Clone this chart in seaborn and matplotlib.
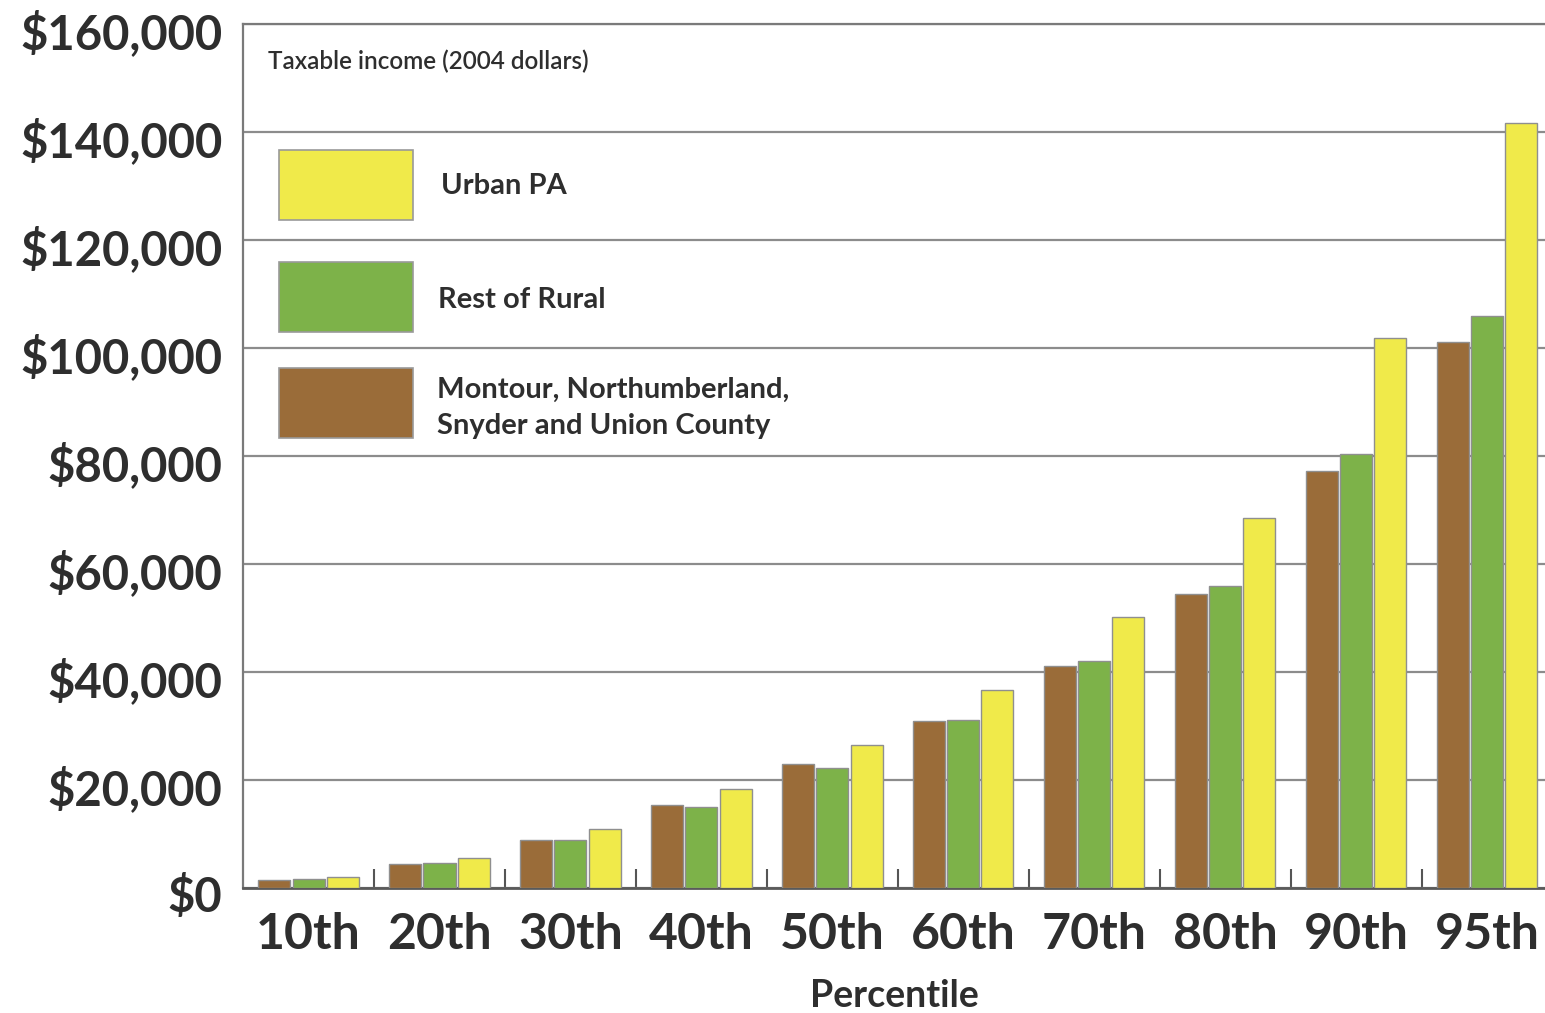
import numpy as np
import pandas as pd
import matplotlib
matplotlib.use("Agg")
import matplotlib.pyplot as plt
import matplotlib.transforms as mtransforms
from matplotlib.patches import Rectangle
from matplotlib.ticker import FuncFormatter, FixedLocator
import seaborn as sns

# ---- data ----
percentiles = ["10th", "20th", "30th", "40th", "50th", "60th", "70th", "80th", "90th", "95th"]
montour = [1500, 4500, 8800, 15400, 23000, 30900, 41100, 54500, 77200, 101100]
rest_rural = [1600, 4600, 8800, 15000, 22300, 31100, 42000, 55900, 80400, 105900]
urban_pa = [2000, 5600, 11000, 18300, 26500, 36700, 50200, 68500, 101900, 141700]
series_names = ["Montour, Northumberland,\nSnyder and Union County", "Rest of Rural", "Urban PA"]
colors = ["#9a6c39", "#7db249", "#f0ea4a"]
y_ticks = [0, 20000, 40000, 60000, 80000, 100000, 120000, 140000, 160000]

df = pd.DataFrame({
    "Percentile": percentiles * 3,
    "Income": montour + rest_rural + urban_pa,
    "Region": [series_names[0]] * 10 + [series_names[1]] * 10 + [series_names[2]] * 10,
})

sns.set_theme(style="white")
plt.rcParams["font.family"] = ["Lato", "DejaVu Sans"]
text_color = "#2e2e2e"

fig = plt.figure(figsize=(15.45, 10.13), dpi=100)
ax = fig.add_axes([0.1573, 0.1234, 0.8427, 0.8529])

sns.barplot(data=df, x="Percentile", y="Income", hue="Region",
            order=percentiles, hue_order=series_names, palette=colors,
            saturation=1, width=0.78, gap=0.06, edgecolor="#8f8f8f", linewidth=1.0,
            legend=False, ax=ax, zorder=3)

ax.set_ylim(0, 160000)
ax.set_xlim(-0.5, 9.44)
ax.set_yticks(y_ticks)
ax.yaxis.set_major_formatter(FuncFormatter(lambda v, p: f"${v:,.0f}"))
ax.grid(axis="y", color="#8c8c8c", linewidth=1.6, zorder=0)
ax.grid(axis="x", visible=False)
ax.set_axisbelow(True)

for s in ["left", "top"]:
    ax.spines[s].set_color("#7a7a7a")
    ax.spines[s].set_linewidth(1.6)
ax.spines["right"].set_visible(False)
ax.spines["bottom"].set_color("#5a5a5a")
ax.spines["bottom"].set_linewidth(2.0)

ax.tick_params(axis="y", length=0, pad=15, labelsize=34, labelcolor=text_color)
ax.tick_params(axis="x", which="major", length=0, pad=17, labelsize=36, labelcolor=text_color)
ax.xaxis.set_minor_locator(FixedLocator(np.arange(0.5, 9.0, 1.0)))
ax.tick_params(axis="x", which="minor", bottom=True, direction="in", length=14, width=1.5,
               color="#555555")
for lab in ax.get_yticklabels() + ax.get_xticklabels():
    lab.set_fontweight("bold")
offset = mtransforms.ScaledTranslation(0, -6 / 100, fig.dpi_scale_trans)
for lab in ax.get_yticklabels():
    lab.set_transform(lab.get_transform() + offset)

ax.set_ylabel("")
ax.set_xlabel("Percentile", fontsize=27, fontweight="bold", color=text_color, labelpad=16)

# in-plot caption
ax.text(0.0192, 0.9572, "Taxable income (2004 dollars)", transform=ax.transAxes,
        fontsize=17.5, fontweight="semibold", color=text_color, va="center", ha="left")

# hand-drawn legend
legend_items = [
    (series_names[2], colors[2], 0.7731, 0.8125, 0.1521),
    (series_names[1], colors[1], 0.6435, 0.6806, 0.1498),
    (series_names[0], colors[0], 0.5208, 0.5560, 0.1490),
]
for name, col, yb, yt, xt in legend_items:
    ax.add_patch(Rectangle((0.0276, yb), 0.1029, 0.081, transform=ax.transAxes,
                           facecolor=col, edgecolor="#999999", linewidth=1.2, zorder=4))
    ax.text(xt, yt, name, transform=ax.transAxes, fontsize=21, fontweight="bold",
            color=text_color, va="center", ha="left", linespacing=1.5, zorder=4)

fig.savefig("out.png", dpi=100)
